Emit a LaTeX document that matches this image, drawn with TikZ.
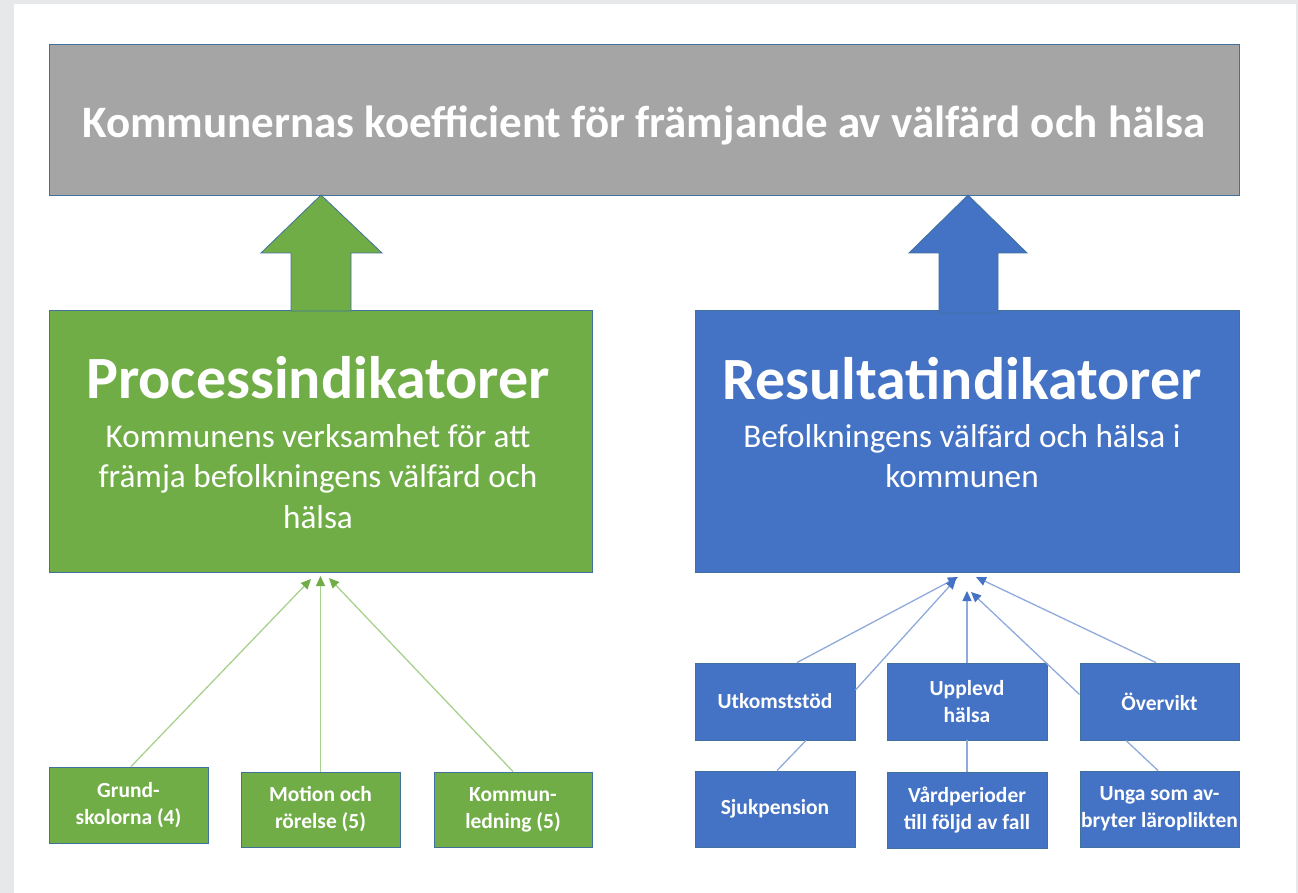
\documentclass[tikz,border=0pt]{standalone}
\usepackage{fontspec}
\setmainfont{Carlito}
\usetikzlibrary{arrows.meta}
\definecolor{bgout}{HTML}{E7E8EA}
\definecolor{ggray}{HTML}{A5A5A5}
\definecolor{ggreen}{HTML}{70AD47}
\definecolor{gblue}{HTML}{4472C4}
\definecolor{edgec}{HTML}{41719C}
\definecolor{lgreen}{HTML}{A9D18E}
\definecolor{lblue}{HTML}{8FAADC}
\begin{document}
\begin{tikzpicture}[x=1pt,y=-1pt,
  box/.style={draw=edgec, line width=0.9pt, inner sep=0pt, text=white, align=center},
  small/.style={box, font=\fontsize{21.5}{27}\selectfont\bfseries},
  gbox/.style={small, fill=ggreen},
  bbox/.style={small, fill=gblue},
  head/.style={anchor=base, text=white, inner sep=0pt, font=\fontsize{60}{64}\selectfont\bfseries},
  sub/.style={anchor=base, text=white, inner sep=0pt, font=\fontsize{33.2}{37}\selectfont},
  gconn/.style={draw=lgreen, line width=1.3pt},
  bconn/.style={draw=lblue, line width=1.3pt},
  gtip/.style={-{Triangle[length=10pt,width=9pt,color=ggreen]}},
  btip/.style={-{Triangle[length=10pt,width=9pt,color=gblue]}},
  blockarrow/.style={draw=edgec, line width=0.8pt, line join=miter}
]
\useasboundingbox (0,0) rectangle (1298,893);
\fill[bgout] (0,0) rectangle (1298,893);
\fill[white] (14,4) rectangle (1296,893);

% top box
\node[box, fill=ggray, minimum width=1190pt, minimum height=151pt] (top) at (644,119.5) {};
\node[anchor=base, text=white, inner sep=0pt, font=\fontsize{45}{50}\selectfont\bfseries] (toptext) at (644,138)
  {Kommunernas koefficient för främjande av välfärd och hälsa};

% main boxes
\node[box, fill=ggreen, minimum width=543pt, minimum height=262pt] (proc) at (320.5,441) {};
\node[box, fill=gblue, minimum width=544pt, minimum height=262pt] (res) at (967,441) {};

\node[head] (proch) at (318,398) {Processindikatorer};
\node[sub] (procs1) at (318,447) {Kommunens verksamhet för att};
\node[sub] (procs2) at (318,487.5) {främja befolkningens välfärd och};
\node[sub] (procs3) at (318,528) {hälsa};

\node[head] (resh) at (962,399) {Resultatindikatorer};
\node[sub] (ress1) at (962,447) {Befolkningens välfärd och hälsa i};
\node[sub] (ress2) at (962,487.5) {kommunen};

% block arrows
\path[blockarrow, fill=ggreen] (261,253) -- (321,195) -- (382,253) -- (351,253) -- (351,311) -- (291,311) -- (291,253) -- cycle;
\path[blockarrow, fill=gblue] (909,253) -- (968,195) -- (1027,253) -- (998,253) -- (998,313) -- (939,313) -- (939,253) -- cycle;

% small green boxes
\node[gbox, minimum width=159pt, minimum height=76pt] (grund) at (128.5,805) {Grund-\\skolorna (4)};
\node[gbox, minimum width=159pt, minimum height=75pt] (motion) at (320.5,809.5) {Motion och\\rörelse (5)};
\node[gbox, minimum width=158pt, minimum height=75pt] (kommun) at (513,809.5) {Kommun-\\ledning (5)};

% small blue boxes
\node[bbox, minimum width=160pt, minimum height=77pt] (utk) at (775,701.5) {Utkomststöd};
\node[bbox, minimum width=160pt, minimum height=77pt] (upp) at (967,701.5) {Upplevd\\hälsa};
\node[bbox, minimum width=159pt, minimum height=77pt] (over) at (1159.5,701.5) {Övervikt};
\node[bbox, minimum width=160pt, minimum height=76pt] (sjuk) at (775,809) {Sjukpension};
\node[bbox, minimum width=160pt, minimum height=76pt] (vard) at (967,810) {Vårdperioder\\till följd av fall};
\node[bbox, minimum width=159pt, minimum height=76pt] (unga) at (1159.5,809) {Unga som av-\\bryter läroplikten};

% hub coordinates
\coordinate (gh1) at (311,579);
\coordinate (gh2) at (320.5,576);
\coordinate (gh3) at (329,578);
\coordinate (bh1) at (958,577);
\coordinate (bh2) at (956,579);
\coordinate (bh3) at (967,591);
\coordinate (bh4) at (971,592);
\coordinate (bh5) at (976,577);

% green connectors
\draw[gconn, gtip] ([xshift=2.5pt]grund.north) -- (gh1);
\draw[gconn, gtip] (motion.north) -- (gh2);
\draw[gconn, gtip] (kommun.north) -- (gh3);

% blue connectors
\draw[bconn, btip] ([xshift=22pt]utk.north) -- (bh1);
\draw[bconn, btip] ([yshift=11.5pt]utk.east) -- (bh2);
\draw[bconn, btip] (upp.north) -- (bh3);
\draw[bconn, btip] ([yshift=7pt]over.west) -- (bh4);
\draw[bconn, btip] ([xshift=-3.5pt]over.north) -- (bh5);
\draw[bconn] ([xshift=2pt]sjuk.north) -- ([xshift=31pt]utk.south);
\draw[bconn] (vard.north) -- (upp.south);
\draw[bconn] ([xshift=-1.5pt]unga.north) -- ([xshift=-33.5pt]over.south);
\end{tikzpicture}
\end{document}
